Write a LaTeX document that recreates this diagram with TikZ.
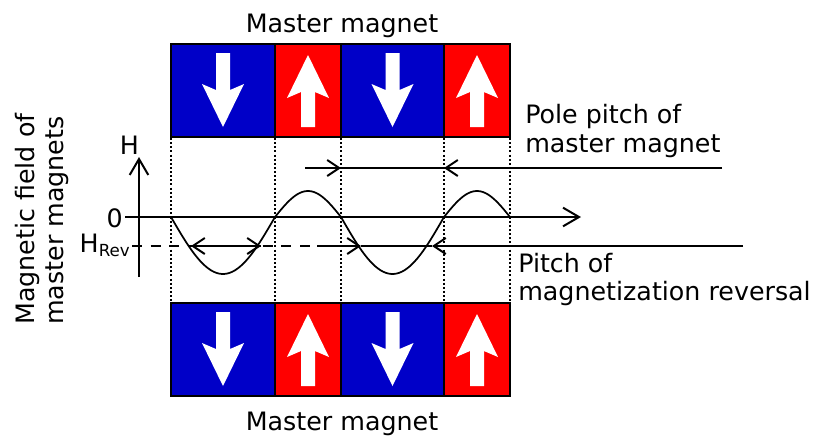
\documentclass[tikz,border=0pt]{standalone}
\usepackage{fontspec}
\setmainfont{DejaVu Sans}
\usetikzlibrary{arrows.meta}
\definecolor{magblue}{HTML}{0000C8}
\definecolor{magred}{HTML}{FF0000}

\tikzset{
  magframe/.style={draw=black, line width=1.8pt},
  guide/.style={line width=1.5pt, dash pattern=on 1.5pt off 1.6pt},
  dimline/.style={line width=1.5pt},
  axisline/.style={line width=1.5pt, -{Straight Barb[length=12pt,width=14pt,line width=1.5pt]}},
  barb/.style={-{Straight Barb[length=9pt,width=12pt,line width=1.5pt]}},
  wave/.style={line width=1.3pt, smooth},
  txt/.style={font=\fontsize{19}{21.75}\selectfont, inner sep=0pt},
  axtxt/.style={font=\fontsize{19}{21}\selectfont, inner sep=0pt}
}

% white pole arrows: centre x, start y, tip y
\newcommand{\poledown}[3]{%
  \fill[white] ({#1-7},#2) -- ({#1+7},#2) -- ({#1+7},{#3-37}) -- ({#1+21},{#3-43}) -- (#1,#3) -- ({#1-21},{#3-43}) -- ({#1-7},{#3-37}) -- cycle;}
\newcommand{\poleup}[3]{%
  \fill[white] ({#1-7},#3) -- ({#1+7},#3) -- ({#1+7},{#2+37}) -- ({#1+21},{#2+43}) -- (#1,#2) -- ({#1-21},{#2+43}) -- ({#1-7},{#2+37}) -- cycle;}

\begin{document}
\begin{tikzpicture}[x=0.75pt,y=-0.75pt]
\useasboundingbox (0,0) rectangle (815,437);

% magnets
\foreach \n/\xa/\xb/\col in {1/171/275/magblue, 2/275/341/magred, 3/341/444/magblue, 4/444/510/magred} {
  \draw[magframe, fill=\col] (\xa,44) rectangle (\xb,137);
  \draw[magframe, fill=\col] (\xa,303) rectangle (\xb,396);
}
\foreach \cx in {223,392.5} {
  \poledown{\cx}{53}{127}
  \poledown{\cx}{312}{386}
}
\foreach \cx in {308,477} {
  \poleup{\cx}{55}{127}
  \poleup{\cx}{314}{386}
}

% guides between upper and lower magnets
\foreach \n/\xg in {1/171, 2/275, 3/341, 4/444, 5/510} {
  \coordinate (t\n) at (\xg,138);
  \coordinate (b\n) at (\xg,302);
  \draw[guide] (t\n) -- (b\n);
}

% axes
\coordinate (hbot) at (139,277);
\coordinate (htop) at (139,157);
\coordinate (zl) at (125,217);
\coordinate (zr) at (581,217);
\draw[axisline] (hbot) -- (htop);
\draw[axisline] (zl) -- (zr);
\node[axtxt] (hlab) at (129.5,145) {H};
\node[axtxt, anchor=base east] (zlab) at (123,227) {0};
\node[axtxt, anchor=base east] (rlab) at (130,252) {H{\fontsize{12.5}{14}\selectfont\raisebox{-3.5pt}{Rev}}};

% field of the magnets
\draw[wave] plot[domain=171:275, samples=40] (\x,{217+57*sin((\x-171)*1.7308)});
\draw[wave] plot[domain=275:341, samples=30] (\x,{217-26*sin((\x-275)*2.7273)});
\draw[wave] plot[domain=341:444, samples=40] (\x,{217+57*sin((\x-341)*1.7476)});
\draw[wave] plot[domain=444:510, samples=30] (\x,{217-26*sin((\x-444)*2.7273)});

% reversal level
\coordinate (r0) at (132,246);
\coordinate (r1) at (191,246);
\coordinate (r2) at (261,246);
\coordinate (r3) at (317,246);
\coordinate (r4) at (361,246);
\coordinate (r5) at (432,246);
\coordinate (r6) at (743,246);
\draw[dimline, dash pattern=on 7.5pt off 6.5pt] (r0) -- (r3);
\draw[dimline, barb] (r1) -- (r2);
\draw[dimline, barb] (r2) -- (r1);
\draw[dimline, barb] (r3) -- (r4);
\draw[dimline] (r4) -- (r5);
\draw[dimline, barb] (r6) -- (r5);

% pole pitch
\coordinate (p0) at (305,168);
\coordinate (p1) at (341,168);
\coordinate (p2) at (444,168);
\coordinate (p3) at (722,168);
\draw[dimline, barb] (p0) -- (p1);
\draw[dimline] (p1) -- (p2);
\draw[dimline, barb] (p3) -- (p2);

% labels
\node[txt, anchor=base] (mtop) at (342,32) {Master magnet};
\node[txt, anchor=base] (mbot) at (342,430) {Master magnet};
\node[txt, anchor=base west] (pp1) at (525,123) {Pole pitch of};
\node[txt, anchor=base west] (pp2) at (525,152) {master magnet};
\node[txt, anchor=base west] (pr1) at (518,272) {Pitch of};
\node[txt, anchor=base west] (pr2) at (518,300) {magnetization reversal};
\node[txt, anchor=base west, rotate=90] (fl1) at (34,325) {Magnetic field of};
\node[txt, anchor=base west, rotate=90] (fl2) at (63,325) {master magnets};
\end{tikzpicture}
\end{document}
